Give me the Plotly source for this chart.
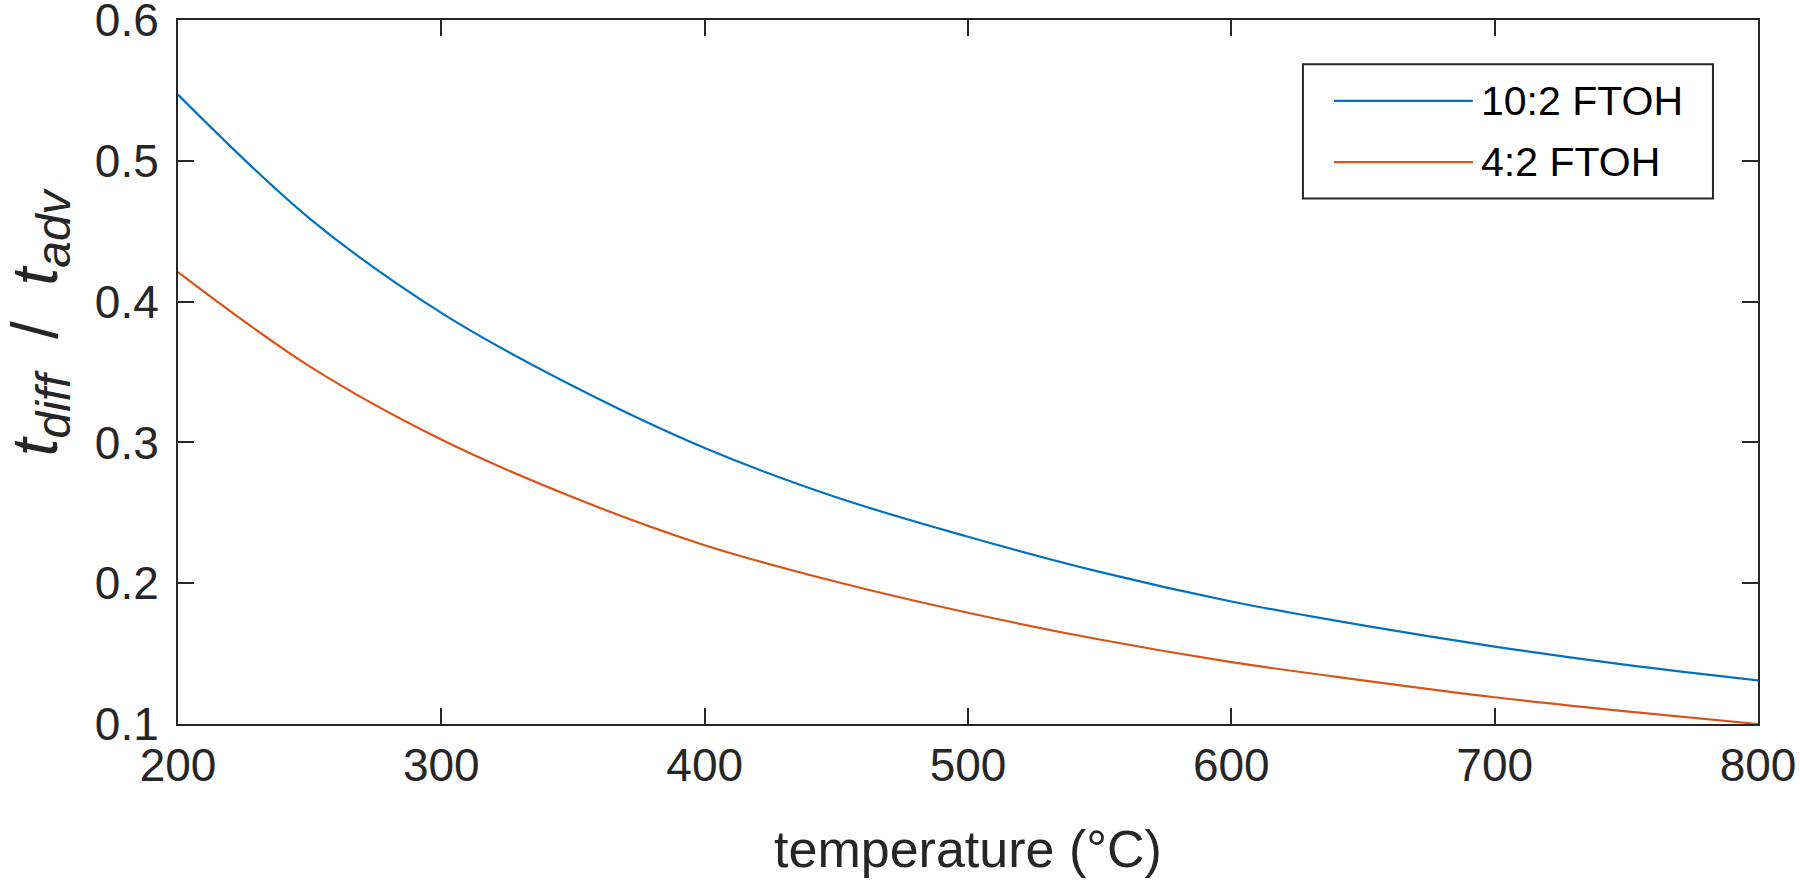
import plotly.graph_objects as go

temperature = [200, 250, 300, 350, 400, 450, 500, 550, 600, 650, 700, 750, 800]
ftoh_10_2 = [0.547, 0.459, 0.392, 0.340, 0.296, 0.261, 0.233, 0.208, 0.187, 0.170, 0.155, 0.142, 0.131]
ftoh_4_2 = [0.421, 0.354, 0.302, 0.261, 0.227, 0.201, 0.179, 0.160, 0.144, 0.131, 0.119, 0.109, 0.100]
series_names = ["10:2 FTOH", "4:2 FTOH"]
series_colors = ["#0072BD", "#D95319"]
x_ticks = [200, 300, 400, 500, 600, 700, 800]
y_ticks = [0.1, 0.2, 0.3, 0.4, 0.5, 0.6]

AX = "#262626"
FONT = "Liberation Sans, Arial, Helvetica, sans-serif"

fig = go.Figure()
for name, ys, col in zip(series_names, [ftoh_10_2, ftoh_4_2], series_colors):
    fig.add_trace(go.Scatter(x=temperature, y=ys, mode="lines", name=name,
                             line=dict(color=col, width=2.2, shape="spline"),
                             showlegend=False))

fig.update_layout(
    width=1800, height=882,
    margin=dict(l=178, r=42, t=20, b=158),
    paper_bgcolor="white", plot_bgcolor="white",
    font=dict(family=FONT, color=AX, size=46),
)
fig.update_xaxes(range=[200, 800], tickvals=x_ticks, ticktext=[str(v) for v in x_ticks],
                 ticks="inside", ticklen=16, tickwidth=2, tickcolor=AX,
                 showline=True, linewidth=2, linecolor=AX, mirror="ticks",
                 showgrid=False, zeroline=False, automargin=False,
                 ticklabeloverflow="allow",
                 tickfont=dict(size=46, color=AX, family=FONT),
                 title=dict(text="temperature (°C)", font=dict(size=52, color=AX, family=FONT), standoff=40))
fig.update_yaxes(range=[0.1, 0.6000001], tickvals=y_ticks, ticktext=[f"{v:.1f}" for v in y_ticks],
                 ticks="inside", ticklen=16, tickwidth=2, tickcolor=AX,
                 showline=True, linewidth=2, linecolor=AX, mirror="ticks",
                 showgrid=False, zeroline=False, automargin=False,
                 ticklabelstandoff=8, ticklabeloverflow="allow",
                 tickfont=dict(size=46, color=AX, family=FONT))

# y-axis title as rotated annotation
fig.add_annotation(xref="paper", yref="paper", x=-0.088, y=0.572, xanchor="center", yanchor="middle",
                   textangle=-90, showarrow=False,
                   text="<i>t</i><sub><span style='font-size:48px'><i>diff</i></span></sub>"
                        "  /  <i>t</i><sub><span style='font-size:48px'><i>adv</i></span></sub>",
                   font=dict(size=64, color=AX, family=FONT))

# custom legend (box, long line samples, labels)
fig.add_shape(type="rect", xref="paper", yref="paper", x0=0.712, x1=0.9715, y0=0.7463, y1=0.937,
              line=dict(color=AX, width=2), fillcolor="white", layer="above")
leg_y = [0.885, 0.798]
for name, col, yy in zip(series_names, series_colors, leg_y):
    fig.add_shape(type="line", xref="paper", yref="paper", x0=0.7316, x1=0.8196, y0=yy, y1=yy,
                  line=dict(color=col, width=2.2), layer="above")
    fig.add_annotation(xref="paper", yref="paper", x=0.8234, y=yy, xanchor="left", yanchor="middle",
                       text=name, showarrow=False, font=dict(size=41, color="black", family=FONT))

fig.write_html("out.html", config={"displayModeBar": False},
               post_script="document.body.style.margin='0';")
